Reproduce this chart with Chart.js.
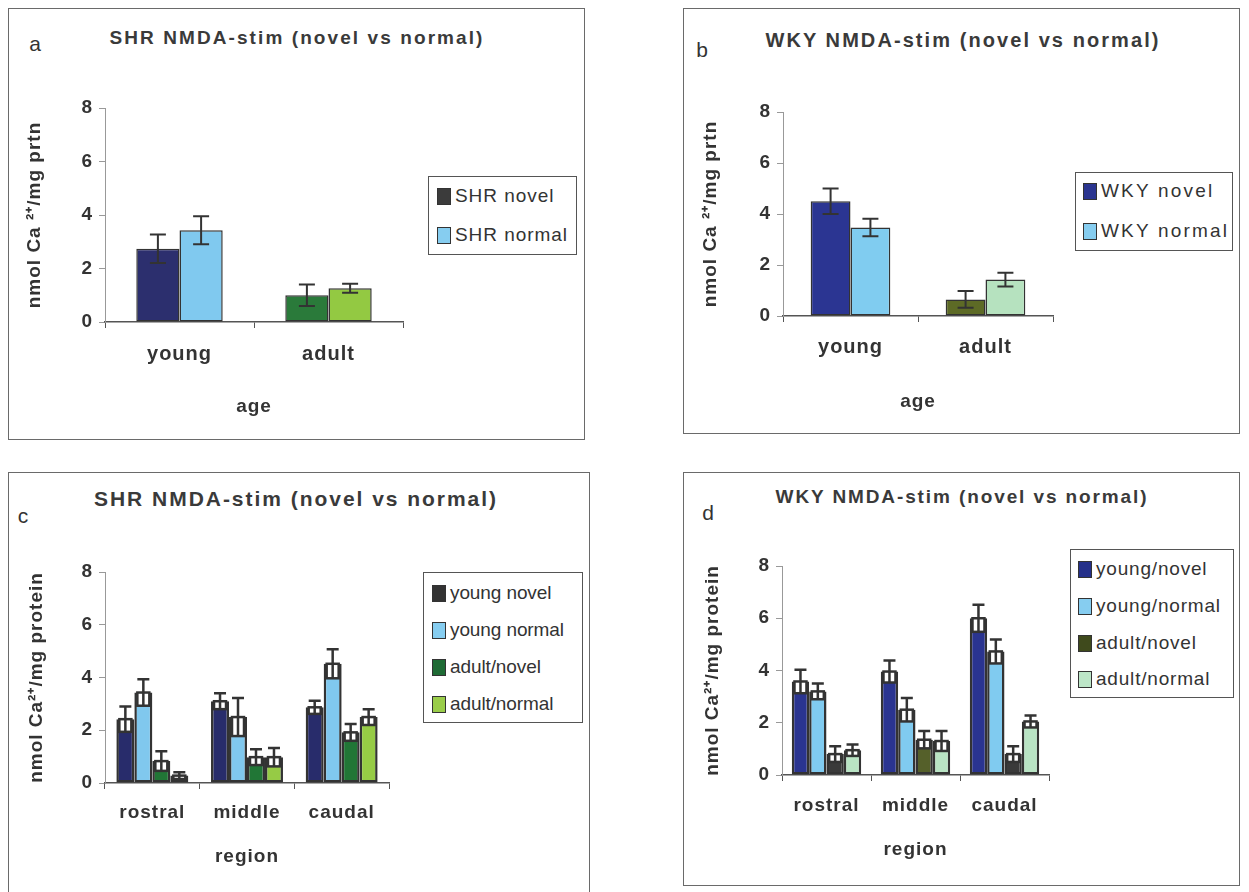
<!DOCTYPE html>
<html>
<head>
<meta charset="utf-8">
<script src="https://cdn.jsdelivr.net/npm/chart.js@4.4.1/dist/chart.umd.min.js"></script>
<style>
    body { margin: 0; width: 1249px; height: 892px; background: #fff; position: relative; overflow: hidden; font-family: 'Liberation Sans', Arial, sans-serif; }
    .panel { position: absolute; border: 1.5px solid #6a6a6a; box-sizing: border-box; }
    canvas.chart { position: absolute; }
    .ptitle { position: absolute; font-weight: bold; color: #3a3a3a; white-space: nowrap; transform: translate(-50%, -50%); }
    .letter { position: absolute; color: #333; font-size: 21px; transform: translate(-50%, -50%); }
    .legend { position: absolute; border: 1.5px solid #555; box-sizing: border-box; background: #fff; }
    .legend .item { position: absolute; white-space: nowrap; font-size: 19px; color: #333; transform: translateY(-50%); display: flex; align-items: center; }
    .legend .sw { width: 14px; height: 17px; border: 1.5px solid #333; box-sizing: border-box; margin-right: 4px; }
</style>
</head>
<body>
<script>
const ageCats = ['young', 'adult'];
const regionCats = ['rostral', 'middle', 'caudal'];

// panel a - SHR by age
const shrNovel = [2.74, 1.0];
const shrNovelErr = [0.53, 0.4];
const shrNormal = [3.43, 1.26];
const shrNormalErr = [0.52, 0.17];

// panel b - WKY by age
const wkyNovel = [4.5, 0.65];
const wkyNovelErr = [0.5, 0.33];
const wkyNormal = [3.47, 1.43];
const wkyNormalErr = [0.34, 0.27];

// panel c - SHR by region
const shrYoungNovel = [2.42, 3.1, 2.87];
const shrYoungNovelErr = [0.48, 0.3, 0.25];
const shrYoungNormal = [3.43, 2.5, 4.52];
const shrYoungNormalErr = [0.5, 0.72, 0.55];
const shrAdultNovel = [0.83, 0.98, 1.92];
const shrAdultNovelErr = [0.37, 0.3, 0.32];
const shrAdultNormal = [0.28, 0.98, 2.5];
const shrAdultNormalErr = [0.13, 0.35, 0.3];

// panel d - WKY by region
const wkyYoungNovel = [3.58, 3.96, 6.0];
const wkyYoungNovelErr = [0.45, 0.42, 0.52];
const wkyYoungNormal = [3.2, 2.5, 4.73];
const wkyYoungNormalErr = [0.3, 0.45, 0.46];
const wkyAdultNovel = [0.8, 1.35, 0.8];
const wkyAdultNovelErr = [0.3, 0.33, 0.3];
const wkyAdultNormal = [0.95, 1.3, 2.05];
const wkyAdultNormalErr = [0.22, 0.38, 0.23];

const yMin = 0, yMax = 8, yStep = 2;

const FONT = "'Liberation Sans', Arial, sans-serif";
const INK = '#333';

const errorBars = {
    id: 'errorBars',
    afterDatasetsDraw(chart, args, opts) {
        const ctx = chart.ctx;
        const y = chart.scales.y;
        chart.data.datasets.forEach((ds, i) => {
            const meta = chart.getDatasetMeta(i);
            meta.data.forEach((bar, j) => {
                const v = ds.data[j], e = ds.err[j];
                const x = bar.x;
                const yv = y.getPixelForValue(v);
                const yHi = y.getPixelForValue(v + e);
                const yLo = y.getPixelForValue(Math.max(v - e, 0));
                const cw = opts.cap;
                ctx.save();
                ctx.strokeStyle = INK;
                ctx.lineWidth = opts.width;
                if (opts.hollow) {
                    ctx.fillStyle = '#fff';
                    ctx.fillRect(x - cw, yv, 2 * cw, yLo - yv);
                    ctx.strokeRect(x - cw, yv, 2 * cw, yLo - yv);
                }
                ctx.beginPath();
                ctx.moveTo(x, yHi);
                ctx.lineTo(x, yLo);
                ctx.moveTo(x - cw, yHi);
                ctx.lineTo(x + cw, yHi);
                if (!opts.hollow) {
                    ctx.moveTo(x - cw, yLo);
                    ctx.lineTo(x + cw, yLo);
                }
                ctx.stroke();
                ctx.restore();
            });
        });
    }
};

const textSpacing = {
    id: 'textSpacing',
    beforeDraw(chart) { chart.ctx.letterSpacing = '1px'; }
};

function fitText(el, target) {
    el.style.letterSpacing = '0px';
    const w = el.getBoundingClientRect().width;
    const n = el.textContent.length;
    el.style.letterSpacing = ((target - w) / (n - 1)) + 'px';
}

function addDiv(cls, css, text) {
    const d = document.createElement('div');
    d.className = cls;
    Object.assign(d.style, css);
    if (text !== undefined) d.textContent = text;
    document.body.appendChild(d);
    return d;
}

function makePanel(p) {
    const [pl, pt, pr, pb] = p.panel;
    const [al, at, ar, ab] = p.area;
    addDiv('panel', { left: pl + 'px', top: pt + 'px', width: (pr - pl) + 'px', height: (pb - pt) + 'px' });

    const t = addDiv('ptitle', { left: p.title.x + 'px', top: p.title.y + 'px', fontSize: p.title.size + 'px' }, p.title.text);
    fitText(t, p.title.w);
    addDiv('letter', { left: p.letter.x + 'px', top: p.letter.y + 'px' }, p.letter.text);

    const canvas = document.createElement('canvas');
    canvas.className = 'chart';
    canvas.width = pr - pl;
    canvas.height = pb - pt;
    Object.assign(canvas.style, { left: pl + 'px', top: pt + 'px', width: (pr - pl) + 'px', height: (pb - pt) + 'px' });
    document.body.appendChild(canvas);

    const tickLen = 6;
    const xLabelLH = p.xLabelSize * 1.2;
    const titleLH = p.axisTitleSize * 1.2;

    new Chart(canvas, {
        type: 'bar',
        data: {
            labels: p.labels,
            datasets: p.series.map(s => ({
                label: s.label,
                data: s.data,
                err: s.err,
                backgroundColor: s.colors,
                borderColor: INK,
                borderWidth: p.barBorder,
                borderSkipped: false,
                barPercentage: 1,
                categoryPercentage: p.catPct
            }))
        },
        options: {
            responsive: false,
            animation: false,
            devicePixelRatio: 1,
            layout: { padding: { left: 0, top: at - pt, right: pr - ar, bottom: 0 } },
            plugins: {
                legend: { display: false },
                tooltip: { enabled: false },
                errorBars: { cap: p.cap, width: p.errWidth, hollow: p.hollow }
            },
            scales: {
                x: {
                    grid: { display: true, drawOnChartArea: false, drawTicks: true, tickLength: tickLen, color: '#555', offset: true },
                    border: { color: '#555', width: 1.5 },
                    ticks: {
                        color: INK,
                        font: { family: FONT, size: p.xLabelSize, weight: 'bold' },
                        padding: p.xLabelY - ab - tickLen - xLabelLH / 2,
                        maxRotation: 0
                    },
                    title: {
                        display: true,
                        text: p.xTitle,
                        color: INK,
                        font: { family: FONT, size: p.axisTitleSize, weight: 'bold' },
                        padding: { top: 0, bottom: pb - p.xTitleY - titleLH / 2 }
                    },
                    afterFit: s => { s.height = pb - ab; }
                },
                y: {
                    min: yMin,
                    max: yMax,
                    grid: { display: true, drawOnChartArea: false, drawTicks: true, tickLength: tickLen, color: '#999' },
                    border: { color: '#999', width: 1 },
                    ticks: {
                        stepSize: yStep,
                        color: INK,
                        font: { family: FONT, size: 19, weight: 'bold' },
                        padding: 6
                    },
                    title: {
                        display: true,
                        text: p.yTitle,
                        color: INK,
                        font: { family: FONT, size: p.axisTitleSize, weight: 'bold' },
                        padding: { top: p.yTitleX - pl - titleLH / 2, bottom: 0 }
                    },
                    afterFit: s => { s.width = al - pl; }
                }
            }
        },
        plugins: [textSpacing, errorBars]
    });

    const [ll, lt, lr, lb] = p.legend.box;
    const lg = addDiv('legend', { left: ll + 'px', top: lt + 'px', width: (lr - ll) + 'px', height: (lb - lt) + 'px' });
    const items = [];
    p.legend.labels.forEach((lab, i) => {
        const it = document.createElement('div');
        it.className = 'item';
        it.style.left = (p.legend.swX - ll) + 'px';
        it.style.top = (p.legend.ys[i] - lt) + 'px';
        const sw = document.createElement('span');
        sw.className = 'sw';
        sw.style.background = p.legend.colors[i];
        const tx = document.createElement('span');
        tx.textContent = lab;
        it.appendChild(sw);
        it.appendChild(tx);
        lg.appendChild(it);
        items.push(tx);
    });
    const longest = items.reduce((a, b) => (b.textContent.length > a.textContent.length ? b : a));
    fitText(longest, p.legend.textW);
    items.forEach(tx => { tx.style.letterSpacing = longest.style.letterSpacing; });
}

makePanel({
    panel: [8, 8, 585, 440],
    area: [105, 108, 403, 322],
    title: { text: 'SHR NMDA-stim (novel vs normal)', x: 297, y: 38, w: 373, size: 19 },
    letter: { text: 'a', x: 35, y: 44 },
    labels: ageCats,
    series: [
        { label: 'SHR novel', data: shrNovel, err: shrNovelErr, colors: ['#2c2f6e', '#2a7a3a'] },
        { label: 'SHR normal', data: shrNormal, err: shrNormalErr, colors: ['#80c9ef', '#93c942'] }
    ],
    catPct: 0.58, barBorder: 1.5, cap: 8, errWidth: 2, hollow: false,
    xLabelSize: 20, axisTitleSize: 19,
    xLabelY: 354, xTitle: 'age', xTitleY: 407,
    yTitle: 'nmol Ca \u00b2\u207a/mg prtn', yTitleX: 35,
    legend: {
        box: [428, 176, 577, 255], swX: 436, ys: [195, 234], textW: 112,
        labels: ['SHR novel', 'SHR normal'], colors: ['#3b3b3b', '#86cdf0']
    }
});

makePanel({
    panel: [683, 8, 1240, 434],
    area: [783, 112, 1053, 316],
    title: { text: 'WKY NMDA-stim (novel vs normal)', x: 963, y: 40, w: 393, size: 20 },
    letter: { text: 'b', x: 702, y: 50 },
    labels: ageCats,
    series: [
        { label: 'WKY novel', data: wkyNovel, err: wkyNovelErr, colors: ['#2b3592', '#5d6a26'] },
        { label: 'WKY normal', data: wkyNormal, err: wkyNormalErr, colors: ['#80ccf0', '#b6e2bf'] }
    ],
    catPct: 0.59, barBorder: 1.5, cap: 8, errWidth: 2, hollow: false,
    xLabelSize: 20, axisTitleSize: 19,
    xLabelY: 347, xTitle: 'age', xTitleY: 402,
    yTitle: 'nmol Ca \u00b2\u207a/mg prtn', yTitleX: 711,
    legend: {
        box: [1075, 172, 1233, 251], swX: 1082, ys: [190, 230], textW: 126,
        labels: ['WKY novel', 'WKY normal'], colors: ['#2b3590', '#86cdf0']
    }
});

makePanel({
    panel: [8, 472, 590, 900],
    area: [105, 572, 389, 783],
    title: { text: 'SHR NMDA-stim (novel vs normal)', x: 296, y: 499, w: 402, size: 21 },
    letter: { text: 'c', x: 23, y: 516 },
    labels: regionCats,
    series: [
        { label: 'young novel', data: shrYoungNovel, err: shrYoungNovelErr, colors: '#282c6b' },
        { label: 'young normal', data: shrYoungNormal, err: shrYoungNormalErr, colors: '#80c8ee' },
        { label: 'adult/novel', data: shrAdultNovel, err: shrAdultNovelErr, colors: '#217636' },
        { label: 'adult/normal', data: shrAdultNormal, err: shrAdultNormalErr, colors: '#96cb45' }
    ],
    catPct: 0.76, barBorder: 2.5, cap: 6, errWidth: 2.5, hollow: true,
    xLabelSize: 19, axisTitleSize: 19,
    xLabelY: 813, xTitle: 'region', xTitleY: 857,
    yTitle: 'nmol Ca\u00b2\u207a/mg protein', yTitleX: 37,
    legend: {
        box: [423, 572, 583, 723], swX: 431, ys: [592, 629, 666, 703], textW: 114,
        labels: ['young novel', 'young normal', 'adult/novel', 'adult/normal'],
        colors: ['#333333', '#86cdf0', '#1f6b35', '#9acd4a']
    }
});

makePanel({
    panel: [683, 472, 1240, 886],
    area: [782, 566, 1049, 775],
    title: { text: 'WKY NMDA-stim (novel vs normal)', x: 962, y: 497, w: 371, size: 19 },
    letter: { text: 'd', x: 708, y: 513 },
    labels: regionCats,
    series: [
        { label: 'young/novel', data: wkyYoungNovel, err: wkyYoungNovelErr, colors: '#2a3490' },
        { label: 'young/normal', data: wkyYoungNormal, err: wkyYoungNormalErr, colors: '#80cbf0' },
        { label: 'adult/novel', data: wkyAdultNovel, err: wkyAdultNovelErr, colors: ['#3a3a3a', '#55602a', '#3a3a3a'] },
        { label: 'adult/normal', data: wkyAdultNormal, err: wkyAdultNormalErr, colors: '#b9e4c4' }
    ],
    catPct: 0.78, barBorder: 2.5, cap: 6, errWidth: 2.5, hollow: true,
    xLabelSize: 19, axisTitleSize: 19,
    xLabelY: 806, xTitle: 'region', xTitleY: 850,
    yTitle: 'nmol Ca\u00b2\u207a/mg protein', yTitleX: 713,
    legend: {
        box: [1070, 549, 1234, 698], swX: 1077, ys: [568, 605, 642, 678], textW: 124,
        labels: ['young/novel', 'young/normal', 'adult/novel', 'adult/normal'],
        colors: ['#25308a', '#86cdf0', '#3f4a1c', '#bde6c8']
    }
});
</script>
</body>
</html>
